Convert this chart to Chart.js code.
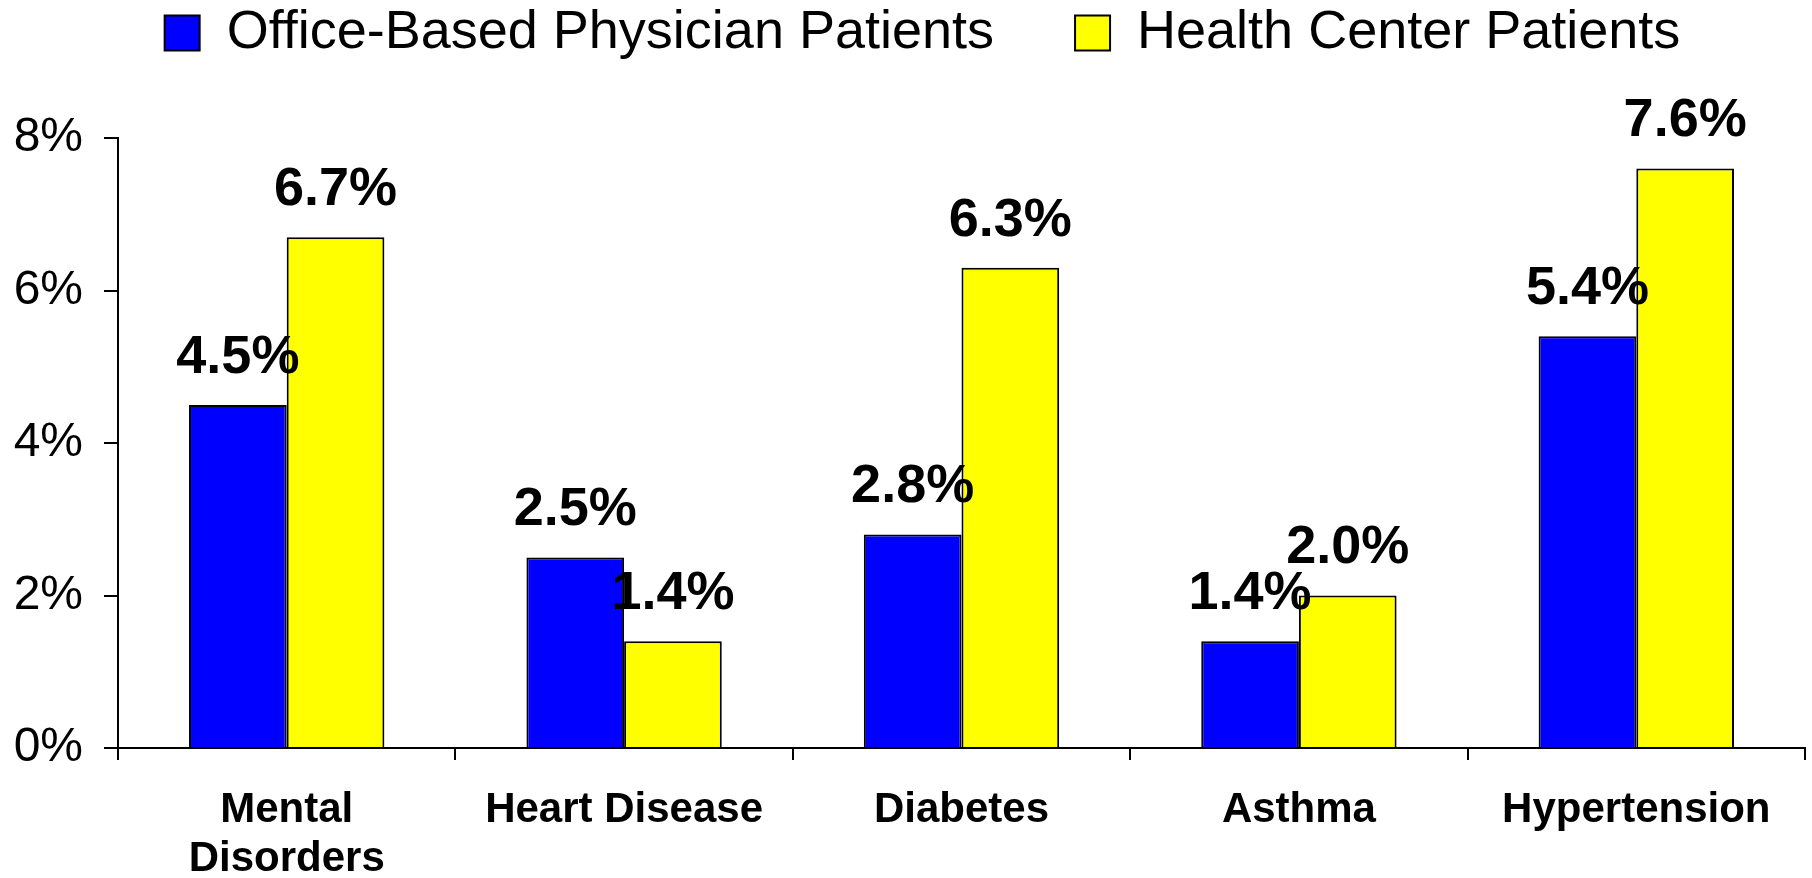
<!DOCTYPE html>
<html>
<head>
<meta charset="utf-8">
<script src="https://cdn.jsdelivr.net/npm/chart.js@4.4.1/dist/chart.umd.min.js"></script>
<style>
  html, body { margin: 0; padding: 0; background: #fff; }
  #wrap { width: 1812px; height: 878px; }
</style>
</head>
<body>
<div id="wrap"><canvas id="conditionsChart"></canvas></div>
<script>
const categories = [['Mental', 'Disorders'], 'Heart Disease', 'Diabetes', 'Asthma', 'Hypertension'];
const seriesNames = ['Office-Based Physician Patients', 'Health Center Patients'];
const officeValues = [4.5, 2.5, 2.8, 1.4, 5.4];
const healthCenterValues = [6.7, 1.4, 6.3, 2.0, 7.6];
const yTicks = [0, 2, 4, 6, 8];

const fontFamily = 'Arial, "Liberation Sans", Helvetica, sans-serif';

// value labels above each bar
const barValueLabels = {
  id: 'barValueLabels',
  afterDatasetsDraw(chart) {
    const ctx = chart.ctx;
    ctx.save();
    ctx.font = 'bold 54px ' + fontFamily;
    ctx.fillStyle = '#000';
    ctx.textAlign = 'center';
    ctx.textBaseline = 'middle';
    chart.data.datasets.forEach((ds, i) => {
      chart.getDatasetMeta(i).data.forEach((bar, j) => {
        ctx.fillText(ds.data[j].toFixed(1) + '%', bar.x, bar.y - 47);
      });
    });
    ctx.restore();
  }
};

// leave room between the legend and the plot, and nudge the legend right
const legendSpacing = {
  id: 'legendSpacing',
  beforeLayout(chart) {
    const legend = chart.legend;
    if (legend && !legend._spaced) {
      const fit = legend.fit;
      legend.fit = function () {
        fit.call(this);
        this.height = 138;
      };
      legend._spaced = true;
    }
  },
  afterLayout(chart) {
    chart.legend.left += 20;
    chart.legend.right += 20;
  }
};

const ctx = document.getElementById('conditionsChart').getContext('2d');

const conditionsChart = new Chart(ctx, {
  type: 'bar',
  data: {
    labels: categories,
    datasets: [{
      label: seriesNames[0],
      data: officeValues,
      backgroundColor: '#0000ff',
      borderColor: '#000',
      borderWidth: 2,
    }, {
      label: seriesNames[1],
      data: healthCenterValues,
      backgroundColor: '#ffff00',
      borderColor: '#000',
      borderWidth: 2,
    }]
  },
  options: {
    responsive: true,
    maintainAspectRatio: false,
    animation: false,
    datasets: {
      bar: {
        categoryPercentage: 0.579,
        barPercentage: 1.0,
      }
    },
    layout: {
      padding: { left: 0, right: 7, top: 0, bottom: 0 }
    },
    plugins: {
      tooltip: { enabled: false },
      legend: {
        position: 'top',
        labels: {
          color: '#000',
          font: { family: fontFamily, size: 54 },
          boxWidth: 35,
          boxHeight: 35,
          padding: 6,
          generateLabels(chart) {
            const items = Chart.defaults.plugins.legend.labels.generateLabels(chart);
            items[0].text += '\u00a0'.repeat(5);
            return items;
          }
        }
      }
    },
    scales: {
      x: {
        offset: true,
        grid: {
          offset: true,
          drawOnChartArea: false,
          drawTicks: true,
          tickLength: 12,
          color: '#000',
          lineWidth: 2,
        },
        border: { color: '#000', width: 2 },
        ticks: {
          color: '#000',
          font: { family: fontFamily, size: 42, weight: 'bold', lineHeight: 1.167 },
          padding: 26,
          maxRotation: 0,
          autoSkip: false,
        },
        afterFit(scale) { scale.height = 130; }
      },
      y: {
        min: 0,
        max: 8,
        afterBuildTicks(scale) { scale.ticks = yTicks.map(v => ({ value: v })); },
        grid: {
          drawOnChartArea: false,
          tickLength: 14,
          color: '#000',
          lineWidth: 2,
        },
        border: { color: '#000', width: 2 },
        ticks: {
          color: '#000',
          font: { family: fontFamily, size: 48 },
          padding: 21,
          callback: v => v + '%',
        },
        afterFit(scale) { scale.width = 118; }
      }
    }
  },
  plugins: [barValueLabels, legendSpacing]
});
</script>
</body>
</html>
